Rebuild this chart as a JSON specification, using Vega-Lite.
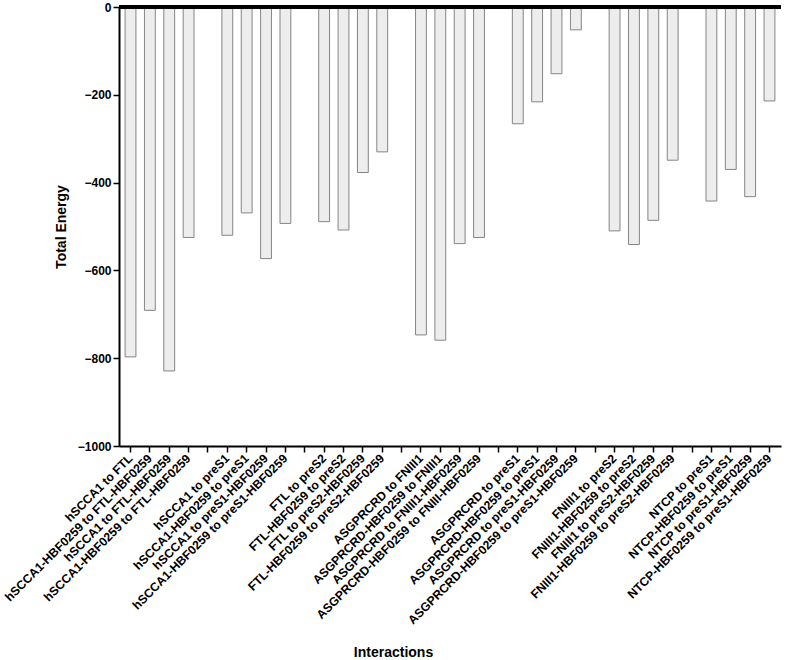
{
  "$schema": "https://vega.github.io/schema/vega-lite/v6.json",
  "width": 662,
  "height": 439,
  "autosize": {"type": "none"},
  "padding": {"left": 119, "top": 7, "right": 6, "bottom": 214},
  "config": {
    "view": {"stroke": null},
    "font": "Liberation Sans",
    "axis": {"labelColor": "black", "titleColor": "black", "domainColor": "black", "tickColor": "black", "grid": false}
  },
  "data": {
    "values": [
      {"label": "hSCCA1 to FTL", "energy": -797},
      {"label": "hSCCA1-HBF0259 to FTL-HBF0259", "energy": -691},
      {"label": "hSCCA1 to FTL-HBF0259", "energy": -829},
      {"label": " hSCCA1-HBF0259 to FTL-HBF0259", "energy": -525},
      {"label": "hSCCA1 to preS1", "energy": -520},
      {"label": "hSCCA1-HBF0259 to preS1", "energy": -469},
      {"label": "hSCCA1 to preS1-HBF0259", "energy": -573},
      {"label": "hSCCA1-HBF0259 to preS1-HBF0259", "energy": -493},
      {"label": "FTL to preS2", "energy": -489},
      {"label": "FTL-HBF0259 to preS2", "energy": -508},
      {"label": "FTL to preS2-HBF0259", "energy": -377},
      {"label": "FTL-HBF0259 to preS2-HBF0259", "energy": -330},
      {"label": "ASGPRCRD to FNIII1", "energy": -747},
      {"label": "ASGPRCRD-HBF0259 to FNIII1", "energy": -759},
      {"label": "ASGPRCRD to FNIII1-HBF0259", "energy": -539},
      {"label": "ASGPRCRD-HBF0259 to FNIII-HBF0259", "energy": -525},
      {"label": "ASGPRCRD to preS1", "energy": -266},
      {"label": "ASGPRCRD-HBF0259 to preS1", "energy": -216},
      {"label": "ASGPRCRD to preS1-HBF0259", "energy": -152},
      {"label": "ASGPRCRD-HBF0259 to preS1-HBF0259", "energy": -52},
      {"label": "FNIII1 to preS2", "energy": -510},
      {"label": "FNIII1-HBF0259 to preS2", "energy": -541},
      {"label": "FNIII1 to preS2-HBF0259", "energy": -486},
      {"label": "FNIII1-HBF0259 to preS2-HBF0259", "energy": -349},
      {"label": "NTCP to preS1", "energy": -442},
      {"label": "NTCP-HBF0259 to preS1", "energy": -370},
      {"label": "NTCP to preS1-HBF0259", "energy": -432},
      {"label": "NTCP-HBF0259 to preS1-HBF0259", "energy": -214}
    ]
  },
  "layer": [
    {
      "mark": {"type": "bar", "fill": "#ededed", "stroke": "#858585", "strokeWidth": 1},
      "encoding": {
        "x": {
          "field": "label",
          "type": "nominal",
          "scale": {
            "domain": [
              "hSCCA1 to FTL", "hSCCA1-HBF0259 to FTL-HBF0259", "hSCCA1 to FTL-HBF0259", " hSCCA1-HBF0259 to FTL-HBF0259", " ",
              "hSCCA1 to preS1", "hSCCA1-HBF0259 to preS1", "hSCCA1 to preS1-HBF0259", "hSCCA1-HBF0259 to preS1-HBF0259", "  ",
              "FTL to preS2", "FTL-HBF0259 to preS2", "FTL to preS2-HBF0259", "FTL-HBF0259 to preS2-HBF0259", "   ",
              "ASGPRCRD to FNIII1", "ASGPRCRD-HBF0259 to FNIII1", "ASGPRCRD to FNIII1-HBF0259", "ASGPRCRD-HBF0259 to FNIII-HBF0259", "    ",
              "ASGPRCRD to preS1", "ASGPRCRD-HBF0259 to preS1", "ASGPRCRD to preS1-HBF0259", "ASGPRCRD-HBF0259 to preS1-HBF0259", "     ",
              "FNIII1 to preS2", "FNIII1-HBF0259 to preS2", "FNIII1 to preS2-HBF0259", "FNIII1-HBF0259 to preS2-HBF0259", "      ",
              "NTCP to preS1", "NTCP-HBF0259 to preS1", "NTCP to preS1-HBF0259", "NTCP-HBF0259 to preS1-HBF0259"
            ],
            "paddingInner": 0.44,
            "paddingOuter": 0.314
          },
          "axis": {
            "title": "Interactions",
            "titleFontSize": 14,
            "titleFontWeight": "bold",
            "titleX": 274,
            "titleY": 210,
            "titleAlign": "center",
            "titleBaseline": "alphabetic",
            "labelAngle": -45,
            "labelAlign": "right",
            "labelBaseline": "middle",
            "labelFontSize": 12.2,
            "labelFontWeight": "bold",
            "labelLimit": 400,
            "labelOverlap": false,
            "labelPadding": 4,
            "tickSize": 6,
            "tickWidth": 1.5,
            "domainWidth": 2
          }
        },
        "y": {
          "field": "energy",
          "type": "quantitative",
          "scale": {"domain": [-1000, 0], "nice": false},
          "axis": {
            "title": "Total Energy",
            "titleFontSize": 14,
            "titleFontWeight": "bold",
            "titlePadding": 9,
            "format": "d",
            "values": [0, -200, -400, -600, -800, -1000],
            "labelFontSize": 12,
            "labelFontWeight": "bold",
            "tickSize": 6,
            "tickWidth": 1.5,
            "domainWidth": 2
          }
        }
      }
    },
    {
      "mark": {"type": "rule", "color": "black", "strokeWidth": 3},
      "encoding": {"y": {"datum": 0}}
    }
  ]
}
